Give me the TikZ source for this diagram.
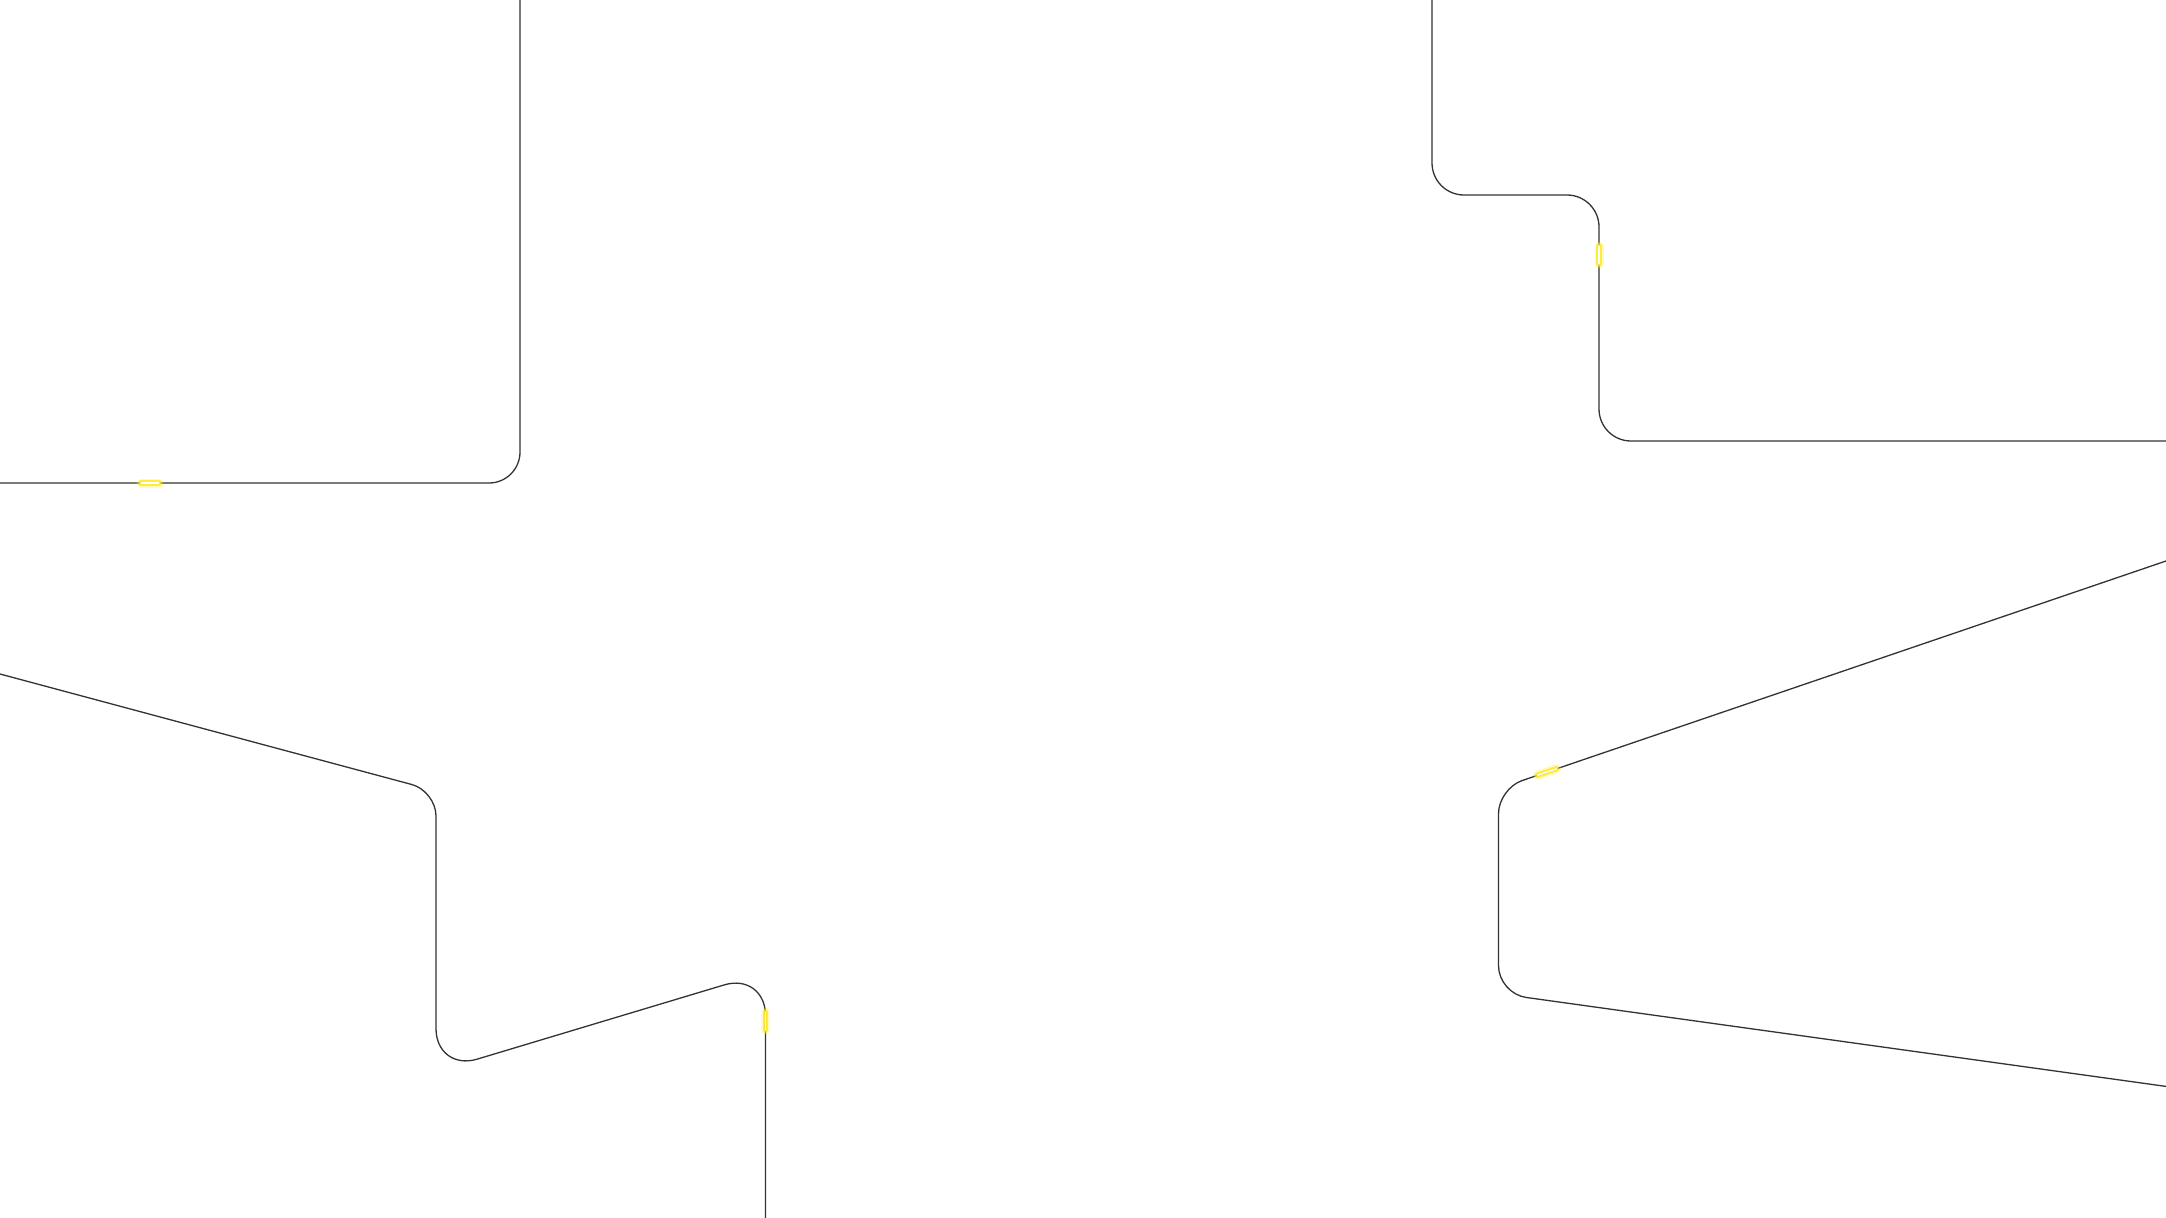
\documentclass[tikz,border=0pt]{standalone}
\begin{document}
\begin{tikzpicture}[x=1pt,y=-1pt,
  wire/.style={draw=black!80, line width=1.3pt},
  glowA/.style={draw=yellow, line width=9pt, opacity=0.25, line cap=round},
  glowB/.style={draw=yellow!90!orange, line width=5.5pt, opacity=0.7, line cap=round},
  glowC/.style={draw=white, line width=1.5pt, line cap=round}]
\fill[white] (0,0) rectangle (2166,1218);
\useasboundingbox (0,0) rectangle (2166,1218);
% path 1
\draw[wire, rounded corners=31pt] (520,0) -- (520,483) -- (0,483);
% path 2
\draw[wire, rounded corners=32pt] (1432,0) -- (1432,195) -- (1599,195) -- (1599,441) -- (2166,441);
% path 3
\draw[wire] (0,674) [rounded corners=25pt] -- (436,791) [rounded corners=43pt] -- (436,1071.5) -- (765.5,972.5) [sharp corners] -- (765.5,1218);
% path 4
\draw[wire] (2166,561) [rounded corners=25pt] -- (1498.5,788.6) [rounded corners=28pt] -- (1498.5,993.6) [sharp corners] -- (2166,1086.4);
% glow marks
\foreach \a/\b in {{141,483}/{159,483},{1599,246}/{1599,264},{1537.5,775.2}/{1556.5,768.8},{765.5,1012}/{765.5,1030}}{
  \draw[glowA] (\a) -- (\b);
  \draw[glowB] (\a) -- (\b);
  \draw[glowC] (\a) -- (\b);
}
\end{tikzpicture}
\end{document}
